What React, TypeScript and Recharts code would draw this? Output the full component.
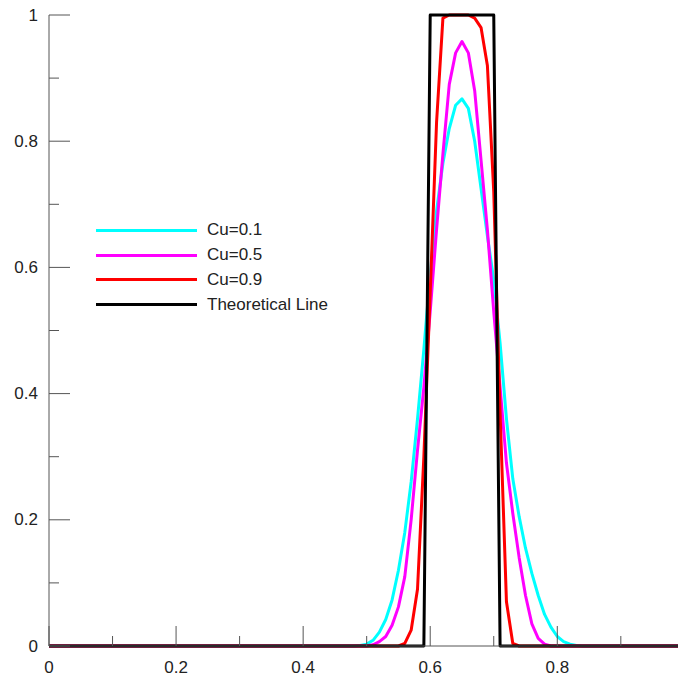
import { LineChart, Line, XAxis, YAxis, Legend } from "recharts";

const xTicks = [0, 0.1, 0.2, 0.3, 0.4, 0.5, 0.6, 0.7, 0.8, 0.9];
const yTicks = [0, 0.1, 0.2, 0.3, 0.4, 0.5, 0.6, 0.7, 0.8, 0.9, 1];

// [x, value] pairs
const cu01: [number, number][] = [
  [0, 0], [0.48, 0], [0.49, 0.001], [0.5, 0.003], [0.51, 0.009], [0.52, 0.022],
  [0.53, 0.042], [0.54, 0.073], [0.55, 0.12], [0.56, 0.18], [0.57, 0.26],
  [0.58, 0.36], [0.59, 0.47], [0.6, 0.59], [0.61, 0.69], [0.62, 0.765],
  [0.63, 0.82], [0.64, 0.857], [0.65, 0.867], [0.66, 0.852], [0.67, 0.8],
  [0.68, 0.725], [0.69, 0.65], [0.7, 0.58], [0.71, 0.48], [0.72, 0.36],
  [0.73, 0.265], [0.74, 0.205], [0.75, 0.155], [0.76, 0.115], [0.77, 0.08],
  [0.78, 0.05], [0.79, 0.03], [0.8, 0.015], [0.81, 0.007], [0.82, 0.003],
  [0.83, 0.001], [0.84, 0], [0.99, 0],
];

const cu05: [number, number][] = [
  [0, 0], [0.5, 0], [0.51, 0.002], [0.52, 0.007], [0.53, 0.015], [0.54, 0.033],
  [0.55, 0.062], [0.56, 0.11], [0.57, 0.2], [0.58, 0.31], [0.59, 0.41],
  [0.6, 0.53], [0.61, 0.66], [0.62, 0.78], [0.63, 0.89], [0.64, 0.94],
  [0.65, 0.958], [0.66, 0.94], [0.67, 0.88], [0.68, 0.77], [0.69, 0.66],
  [0.7, 0.53], [0.71, 0.41], [0.72, 0.29], [0.73, 0.21], [0.74, 0.14],
  [0.75, 0.08], [0.76, 0.035], [0.77, 0.012], [0.78, 0.003], [0.79, 0], [0.99, 0],
];

const cu09: [number, number][] = [
  [0, 0], [0.55, 0], [0.56, 0.004], [0.57, 0.025], [0.58, 0.09], [0.59, 0.3],
  [0.6, 0.56], [0.61, 0.83], [0.62, 0.995], [0.63, 1], [0.64, 1], [0.65, 1],
  [0.66, 1], [0.67, 0.995], [0.68, 0.98], [0.69, 0.92], [0.7, 0.72],
  [0.71, 0.37], [0.72, 0.07], [0.73, 0.004], [0.74, 0], [0.99, 0],
];

const theory: [number, number][] = [
  [0, 0], [0.59, 0], [0.6, 1], [0.7, 1], [0.71, 0], [0.99, 0],
];

const series = [
  { name: "Cu=0.1", color: "#00FFFF", pts: cu01 },
  { name: "Cu=0.5", color: "#FF00FF", pts: cu05 },
  { name: "Cu=0.9", color: "#FF0000", pts: cu09 },
  { name: "Theoretical Line", color: "#000000", pts: theory },
];

const FONT = "'Liberation Sans', Arial, sans-serif";
const TEXT = "#222";
const AXIS = "#555";

const isMajor = (v: number) => Math.round(v * 10) % 2 === 0;

const XTick = (props: any) => {
  const { x, y, payload } = props;
  const v = payload.value;
  const major = isMajor(v);
  return (
    <g>
      <line x1={x} x2={x} y1={y} y2={y - (major ? 20 : 10)} stroke={AXIS} strokeWidth={1} />
      {major && (
        <text x={x} y={y + 21} textAnchor="middle" dominantBaseline="central"
          fontFamily={FONT} fontSize={17} fill={TEXT}>
          {String(v)}
        </text>
      )}
    </g>
  );
};

const YTick = (props: any) => {
  const { x, y, payload } = props;
  const v = payload.value;
  const major = isMajor(v);
  return (
    <g>
      <line x1={x} x2={x + (major ? 21 : 10)} y1={y} y2={y} stroke={AXIS} strokeWidth={1} />
      {major && (
        <text x={x - 11} y={y} textAnchor="end" dominantBaseline="central"
          fontFamily={FONT} fontSize={17} fill={TEXT}>
          {String(v)}
        </text>
      )}
    </g>
  );
};

const LegendContent = (props: any) => (
  <div style={{ fontFamily: FONT, fontSize: 17, color: TEXT }}>
    {(props.payload || []).map((p: any) => (
      <div key={p.value} style={{ display: "flex", alignItems: "center", height: 24.8 }}>
        <span style={{ display: "inline-block", width: 101, height: 3, background: p.color, marginRight: 10 }} />
        <span>{p.value}</span>
      </div>
    ))}
  </div>
);

export default function App() {
  return (
    <div style={{ position: "absolute", left: 0, top: 0, width: 678, height: 676, background: "#fff" }}>
      <LineChart width={678} height={676} margin={{ top: 15, right: 0, bottom: 0, left: 0 }}>
        <XAxis
          dataKey="x"
          type="number"
          domain={[0, 0.99]}
          ticks={xTicks}
          interval={0}
          height={30}
          stroke={AXIS}
          tickLine={false}
          tickSize={0}
          tickMargin={0}
          tick={(p: any) => <XTick {...p} />}
        />
        <YAxis
          type="number"
          domain={[0, 1]}
          ticks={yTicks}
          interval={0}
          width={49}
          stroke={AXIS}
          tickLine={false}
          tickSize={0}
          tickMargin={0}
          tick={(p: any) => <YTick {...p} />}
        />
        <Legend
          layout="vertical"
          align="center"
          verticalAlign="middle"
          wrapperStyle={{ left: 96, top: 218, width: "auto" }}
          content={(p: any) => <LegendContent {...p} />}
        />
        {series.map((s) => (
          <Line
            key={s.name}
            name={s.name}
            data={s.pts.map(([x, y]) => ({ x, y }))}
            dataKey="y"
            type="linear"
            stroke={s.color}
            strokeWidth={3}
            strokeLinejoin="round"
            dot={false}
            activeDot={false}
            isAnimationActive={false}
          />
        ))}
      </LineChart>
    </div>
  );
}
